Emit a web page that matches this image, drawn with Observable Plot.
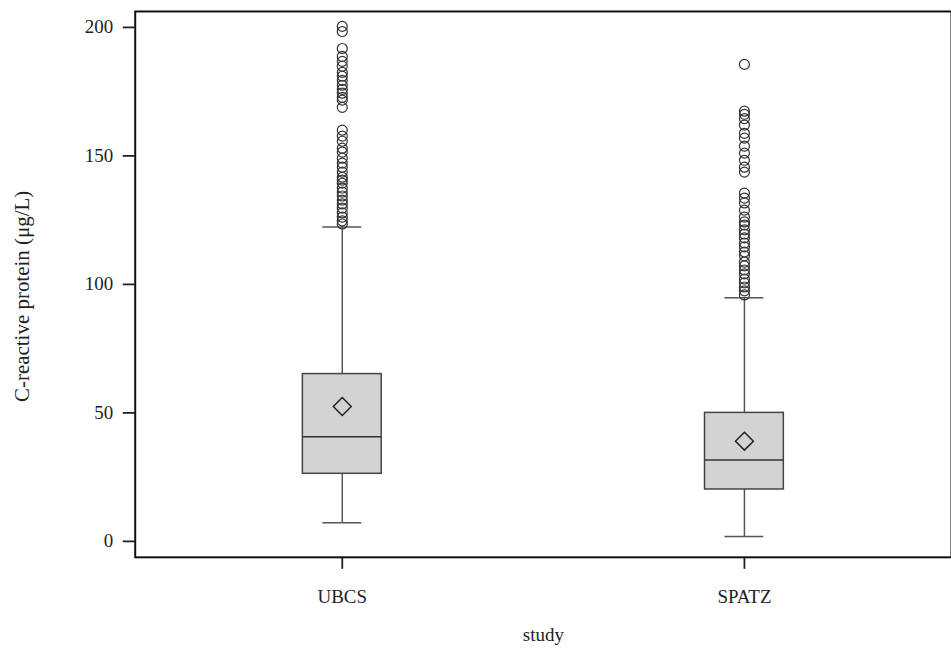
<!DOCTYPE html>
<html>
<head>
<meta charset="utf-8">
<script src="https://cdn.jsdelivr.net/npm/d3@7"></script>
<script src="https://cdn.jsdelivr.net/npm/@observablehq/plot@0.6"></script>
<style>
  html, body { margin: 0; padding: 0; background: #fff; overflow: hidden; }
  #chart svg { display: block; }
  #chart g[aria-label="y-axis tick"] path, #chart g[aria-label="x-axis tick"] path { stroke-width: 1.8; }
</style>
</head>
<body>
<div id="chart"></div>
<script>
// ---- data ----
const studies = ["UBCS", "SPATZ"];
const q1 = [26.3, 20.2];
const median = [40.7, 31.7];
const q3 = [65.1, 50.0];
const mean = [52.5, 39.0];
const whiskerLow = [7.3, 1.9];
const whiskerHigh = [122.3, 94.8];
const outliersUBCS = [200.4, 198.4, 191.8, 188.7, 186.8, 184.9, 182.5, 181.0, 179.4, 177.5, 175.9, 174.4, 172.8, 171.7, 168.9,
  160.0, 157.7, 155.7, 153.0, 151.5, 149.1, 147.2, 145.6, 143.7, 141.7, 140.6, 139.4, 137.5, 135.9, 134.4, 132.8, 131.3,
  129.7, 127.8, 126.2, 124.7, 123.5];
const outliersSPATZ = [185.6, 167.4, 166.2, 164.5, 162.0, 158.8, 156.9, 153.8, 151.1, 148.3, 145.6, 143.7,
  135.5, 133.6, 131.7, 128.9, 126.2, 124.3, 123.1, 121.2, 119.6, 118.1, 116.1, 114.6, 112.6, 111.1, 108.7, 107.2,
  105.6, 104.1, 102.1, 100.6, 99.0, 97.5, 95.9];
const yTicks = [0, 50, 100, 150, 200];
const yLabel = "C-reactive protein (μg/L)";
const xLabel = "study";

const stats = studies.map((s, i) => ({
  study: s, q1: q1[i], median: median[i], q3: q3[i], mean: mean[i], lo: whiskerLow[i], hi: whiskerHigh[i]
}));
const outliers = [
  ...outliersUBCS.map(v => ({study: "UBCS", value: v})),
  ...outliersSPATZ.map(v => ({study: "SPATZ", value: v}))
];

const diamond = d3.symbolDiamond2 || "diamond";
const boxInset = 162, capInset = 182;

const chart = Plot.plot({
  width: 953,
  height: 651,
  marginLeft: 135,
  marginRight: 0,
  marginTop: 11,
  marginBottom: 93,
  style: {fontFamily: "'Liberation Serif', 'Times New Roman', serif", fontSize: "19px", color: "#222", background: "#fff"},
  x: {
    type: "band", domain: studies, paddingInner: 0, paddingOuter: 0.0124,
    tickSize: 12, tickPadding: 20, label: xLabel, labelAnchor: "center", labelOffset: 84, labelArrow: false
  },
  y: {
    domain: [-6.2, 206.2], ticks: yTicks, tickSize: 12, tickPadding: 10, label: null
  },
  marks: [
    Plot.ruleX(stats, {x: "study", y1: "lo", y2: "q1", stroke: "#555", strokeWidth: 1.5}),
    Plot.ruleX(stats, {x: "study", y1: "q3", y2: "hi", stroke: "#555", strokeWidth: 1.5}),
    Plot.tickY(stats, {x: "study", y: "lo", stroke: "#555", strokeWidth: 1.5, insetLeft: capInset, insetRight: capInset}),
    Plot.tickY(stats, {x: "study", y: "hi", stroke: "#555", strokeWidth: 1.5, insetLeft: capInset, insetRight: capInset}),
    Plot.barY(stats, {x: "study", y1: "q1", y2: "q3", fill: "#d3d3d3", stroke: "#444", strokeWidth: 1.5, insetLeft: boxInset, insetRight: boxInset}),
    Plot.tickY(stats, {x: "study", y: "median", stroke: "#333", strokeWidth: 1.5, insetLeft: boxInset, insetRight: boxInset}),
    Plot.dot(stats, {x: "study", y: "mean", symbol: diamond, r: 8.1, fill: "none", stroke: "#222", strokeWidth: 1.5}),
    Plot.dot(outliers, {x: "study", y: "value", r: 5, fill: "none", stroke: "#333", strokeWidth: 1.2}),
    Plot.text([yLabel], {text: d => d, frameAnchor: "left", textAnchor: "middle", rotate: -90, dx: -113, dy: 12, fontSize: 21, fill: "#222"}),
    Plot.frame({stroke: "#111", strokeWidth: 2})
  ]
});
document.getElementById("chart").appendChild(chart);
</script>
</body>
</html>
